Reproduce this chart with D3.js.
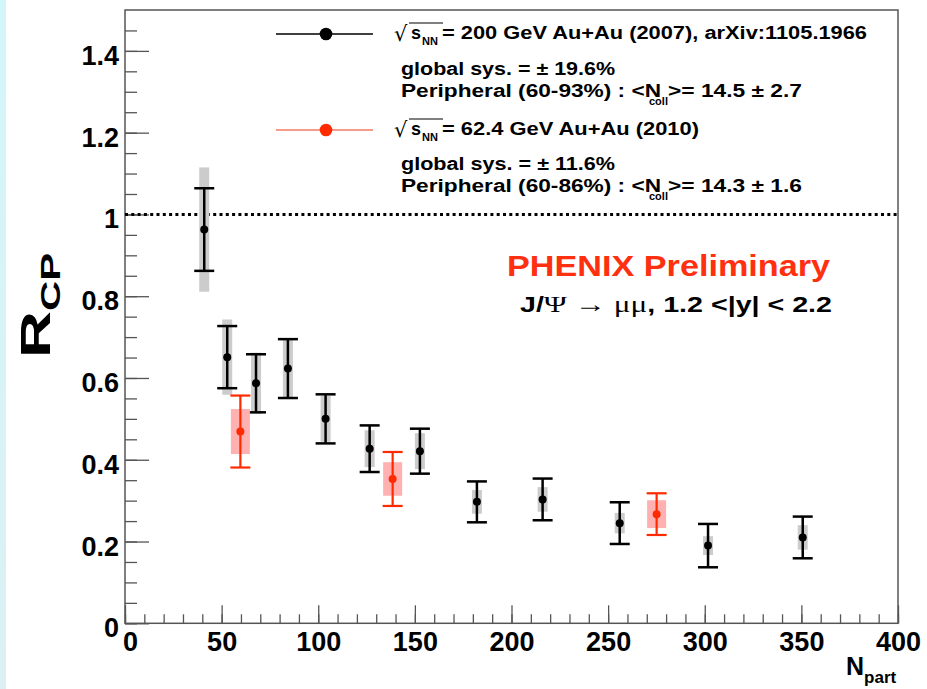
<!DOCTYPE html>
<html lang="en">
<head>
    <meta charset="UTF-8">
    <title>J/Psi R_CP vs N_part</title>
    <script src="https://d3js.org/d3.v7.min.js"></script>
    <style>
        body {
            margin: 0;
            background: #fff;
        }

        svg text {
            font-family: "Liberation Sans", Arial, sans-serif;
            font-weight: bold;
        }

        .axis path {
            display: none;
        }

        .axis line {
            stroke: #555;
            stroke-width: 1.3px;
        }
    </style>
</head>
<body>

<div id="chart"></div>

<script>
    // 200 GeV Au+Au (2007)
    const npart200 = [41, 52.9, 67.8, 84.3, 103.8, 126.6, 152.6, 182.1, 216.1, 256, 301.7, 350.7];
    const rcp200   = [0.963, 0.651, 0.587, 0.623, 0.50, 0.427, 0.421, 0.297, 0.303, 0.245, 0.19, 0.21];
    const stat200  = [0.101, 0.076, 0.071, 0.072, 0.060, 0.057, 0.055, 0.050, 0.051, 0.051, 0.053, 0.051];
    const sys200   = [0.152, 0.092, 0.075, 0.072, 0.056, 0.045, 0.044, 0.029, 0.030, 0.025, 0.023, 0.030];

    // 62.4 GeV Au+Au (2010)
    const npart62 = [59.7, 138.5, 275.1];
    const rcp62   = [0.469, 0.353, 0.267];
    const stat62  = [0.088, 0.066, 0.051];
    const sys62   = [0.055, 0.041, 0.034];

    const xTicks = [0, 50, 100, 150, 200, 250, 300, 350, 400];
    const yTicks = [0, 0.2, 0.4, 0.6, 0.8, 1, 1.2, 1.4];

    const width = 927, height = 689;
    const padL = 125, padR = 898, padT = 10, padB = 623.3;

    const svg = d3.select("#chart").append("svg")
        .attr("width", width)
        .attr("height", height);

    // light strip at the left edge
    const grad = svg.append("defs").append("linearGradient")
        .attr("id", "strip").attr("x1", 0).attr("y1", 0).attr("x2", 0).attr("y2", 1);
    grad.append("stop").attr("offset", "0%").attr("stop-color", "#d3f6fa");
    grad.append("stop").attr("offset", "100%").attr("stop-color", "#dcf0f3");
    svg.append("rect").attr("x", 0).attr("y", 0).attr("width", 6).attr("height", height)
        .attr("fill", "url(#strip)");

    const x = d3.scaleLinear().domain([0, 400]).range([padL, padR]);
    const y = d3.scaleLinear().domain([0, 1.5]).range([padB, padT]);

    // minor ticks
    svg.append("g").attr("class", "axis")
        .attr("transform", `translate(0,${padB})`)
        .call(d3.axisBottom(x).ticks(40).tickSize(-9).tickFormat(""));
    svg.append("g").attr("class", "axis")
        .attr("transform", `translate(${padL},0)`)
        .call(d3.axisLeft(y).tickValues(d3.range(0, 1.5, 0.05)).tickSize(-12).tickFormat(""));

    // major ticks + labels
    const xAxis = svg.append("g").attr("class", "axis")
        .attr("transform", `translate(0,${padB})`)
        .call(d3.axisBottom(x).tickValues(xTicks).tickSize(-18).tickPadding(8.5));
    xAxis.selectAll("text")
        .style("font-size", "27px")
        .attr("fill", "#000")
        .attr("dx", d => d === 0 ? 5 : 0);

    const yAxis = svg.append("g").attr("class", "axis")
        .attr("transform", `translate(${padL},0)`)
        .call(d3.axisLeft(y).tickValues(yTicks).tickSize(-24).tickPadding(6)
            .tickFormat(d => String(+d.toFixed(1))));
    yAxis.selectAll("text")
        .style("font-size", "27px")
        .attr("fill", "#000")
        .attr("dy", "0.5em");

    // frame
    svg.append("rect")
        .attr("x", padL).attr("y", padT)
        .attr("width", padR - padL).attr("height", padB - padT)
        .attr("fill", "none").attr("stroke", "#555").attr("stroke-width", 1.5);

    // reference line at 1
    svg.append("line")
        .attr("x1", x(0)).attr("x2", x(400))
        .attr("y1", y(1)).attr("y2", y(1))
        .attr("stroke", "#000").attr("stroke-width", 3)
        .attr("stroke-dasharray", "3,3.3");

    function drawSeries(npart, rcp, stat, sys, opt) {
        const data = npart.map((n, i) => ({n: n, r: rcp[i], st: stat[i], sy: sys[i]}));
        const g = svg.append("g");

        g.selectAll(".sys").data(data).enter().append("rect")
            .attr("x", d => x(d.n) - opt.boxW / 2)
            .attr("width", opt.boxW)
            .attr("y", d => y(d.r + d.sy))
            .attr("height", d => y(d.r - d.sy) - y(d.r + d.sy))
            .attr("fill", opt.boxColor);

        g.selectAll(".bar").data(data).enter().append("line")
            .attr("x1", d => x(d.n)).attr("x2", d => x(d.n))
            .attr("y1", d => y(d.r + d.st)).attr("y2", d => y(d.r - d.st))
            .attr("stroke", opt.color).attr("stroke-width", opt.lw);

        [1, -1].forEach(s => {
            g.selectAll(".cap" + s).data(data).enter().append("line")
                .attr("x1", d => x(d.n) - 10).attr("x2", d => x(d.n) + 10)
                .attr("y1", d => y(d.r + s * d.st)).attr("y2", d => y(d.r + s * d.st))
                .attr("stroke", opt.color).attr("stroke-width", opt.lw);
        });

        g.selectAll(".pt").data(data).enter().append("circle")
            .attr("cx", d => x(d.n)).attr("cy", d => y(d.r))
            .attr("r", 4)
            .attr("fill", opt.color);
    }

    drawSeries(npart200, rcp200, stat200, sys200,
        {color: "#000", boxColor: "#cccccc", boxW: 10, lw: 2.5});
    drawSeries(npart62, rcp62, stat62, sys62,
        {color: "#ff2a00", boxColor: "#ffb0b0", boxW: 19, lw: 2.2});

    // legend
    function legendEntry(yc, color, lineColor, energy, energyEnd, lines) {
        svg.append("line")
            .attr("x1", 276).attr("x2", 373).attr("y1", yc).attr("y2", yc)
            .attr("stroke", lineColor).attr("stroke-width", 1.3);
        svg.append("circle").attr("cx", 326).attr("cy", yc).attr("r", 6.3).attr("fill", color);

        const base = yc + 5;
        svg.append("text").attr("x", 394).attr("y", base + 2)
            .style("font-family", "DejaVu Sans").style("font-weight", "normal")
            .style("font-size", "21px").text("\u221A");
        svg.append("line")
            .attr("x1", 409).attr("x2", 443).attr("y1", yc - 11).attr("y2", yc - 11)
            .attr("stroke", "#000").attr("stroke-width", 1.2);
        svg.append("text").attr("x", 411).attr("y", base).style("font-size", "18px").text("s");
        svg.append("text").attr("x", 422).attr("y", base + 6).style("font-size", "11px").text("NN");
        svg.append("text").attr("x", 442).attr("y", base).style("font-size", "18px")
            .attr("textLength", energyEnd - 442).attr("lengthAdjust", "spacingAndGlyphs")
            .text(energy);

        svg.append("text").attr("x", 401).attr("y", lines.y1).style("font-size", "18px")
            .attr("textLength", 214).attr("lengthAdjust", "spacingAndGlyphs")
            .text(lines.sys);
        svg.append("text").attr("x", 401).attr("y", lines.y2).style("font-size", "18px")
            .attr("textLength", 260).attr("lengthAdjust", "spacingAndGlyphs")
            .text(lines.periph);
        svg.append("text").attr("x", 649).attr("y", lines.y2 + 8).style("font-size", "11px").text("coll");
        svg.append("text").attr("x", 668).attr("y", lines.y2).style("font-size", "18px")
            .attr("textLength", 134).attr("lengthAdjust", "spacingAndGlyphs")
            .text(lines.ncoll);
    }

    legendEntry(34, "#000", "#000", "= 200 GeV Au+Au (2007), arXiv:1105.1966", 867,
        {y1: 75, y2: 97, sys: "global sys. = \u00B1 19.6%", periph: "Peripheral (60-93%) : <N", ncoll: ">= 14.5 \u00B1 2.7"});
    legendEntry(130, "#ff2a00", "#f47a62", "= 62.4 GeV Au+Au (2010)", 699,
        {y1: 170, y2: 192, sys: "global sys. = \u00B1 11.6%", periph: "Peripheral (60-86%) : <N", ncoll: ">= 14.3 \u00B1 1.6"});

    // annotations
    svg.append("text").attr("x", 507).attr("y", 276)
        .style("font-size", "29px").attr("fill", "#ff3010")
        .attr("textLength", 323).attr("lengthAdjust", "spacingAndGlyphs")
        .text("PHENIX Preliminary");

    const ann = svg.append("text").attr("x", 520).attr("y", 312)
        .style("font-size", "22px")
        .attr("textLength", 312).attr("lengthAdjust", "spacingAndGlyphs");
    ann.append("tspan").text("J/");
    ann.append("tspan").style("font-family", "Liberation Serif").style("font-weight", "normal")
        .style("font-size", "24px")
        .text("\u03A8 \u2192 \u03BC\u03BC");
    ann.append("tspan").text(", 1.2 <|y| < 2.2");

    // axis titles
    const yt = svg.append("text")
        .attr("transform", "translate(50,358) rotate(-90) scale(1.55,1)")
        .style("font-size", "42px");
    yt.append("tspan").text("R");
    yt.append("tspan").attr("dy", 10).style("font-size", "27px").text("CP");

    const xt = svg.append("text").attr("x", 846).attr("y", 675).style("font-size", "25px");
    xt.append("tspan").text("N");
    xt.append("tspan").attr("dy", 8).style("font-size", "17px").text("part");
</script>

</body>
</html>
